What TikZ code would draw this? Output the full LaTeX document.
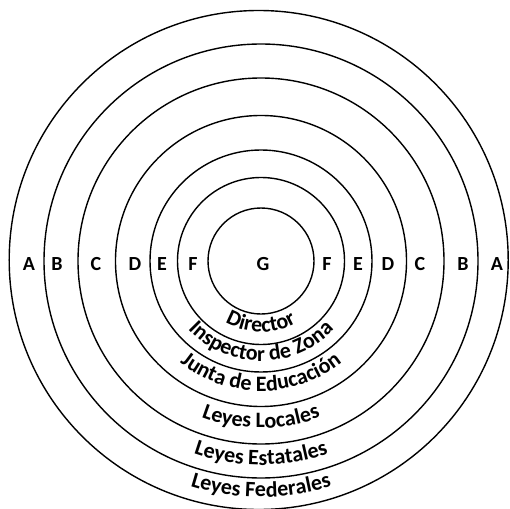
\documentclass[tikz,border=0pt]{standalone}
\usepackage{fontspec}
\setmainfont{Carlito}
\usetikzlibrary{decorations.text}
\tikzset{
  ring/.style={draw=black, line width=1.4pt},
  lbl/.style={font=\fontsize{20}{20}\selectfont\bfseries, inner sep=0pt},
  arctext/.style={decorate, decoration={text along path, text align=center,
     text={|\fontsize{22}{22}\selectfont\bfseries|#1}}}
}
\begin{document}
\begin{tikzpicture}[x=1pt,y=1pt]
\useasboundingbox (-261,-247) rectangle (249,261);
\coordinate (c) at (0,0);
% rings
\draw[ring] (-2.3,1) circle (249.5);
\foreach \r in {217,183,145.5,111,83.5,53} \draw[ring] (c) circle (\r);
% letters
\node[lbl] (A1) at (-232,-3) {A};
\node[lbl] (B1) at (-204,-3) {B};
\node[lbl] (C1) at (-165,-3) {C};
\node[lbl] (D1) at (-126,-3) {D};
\node[lbl] (E1) at (-99,-3) {E};
\node[lbl] (F1) at (-68,-3) {F};
\node[lbl] (G) at (2,-3) {G};
\node[lbl] (F2) at (66,-3) {F};
\node[lbl] (E2) at (97,-3) {E};
\node[lbl] (D2) at (127,-3) {D};
\node[lbl] (C2) at (159,-3) {C};
\node[lbl] (B2) at (202,-3) {B};
\node[lbl] (A2) at (236,-3) {A};
% curved labels
\path[arctext={Director}] (c) ++(180:71) arc[start angle=180,end angle=360,radius=71];
\path[arctext={Inspector de Zona}] (c) ++(180:100) arc[start angle=180,end angle=360,radius=100];
\path[arctext={Junta de Educación}] (c) ++(180:130) arc[start angle=180,end angle=360,radius=130];
\path[arctext={Leyes Locales}] (c) ++(180:167) arc[start angle=180,end angle=360,radius=167];
\path[arctext={Leyes Estatales}] (c) ++(180:204) arc[start angle=180,end angle=360,radius=204];
\path[arctext={Leyes Federales}] (c) ++(180:236) arc[start angle=180,end angle=360,radius=236];
\end{tikzpicture}
\end{document}
